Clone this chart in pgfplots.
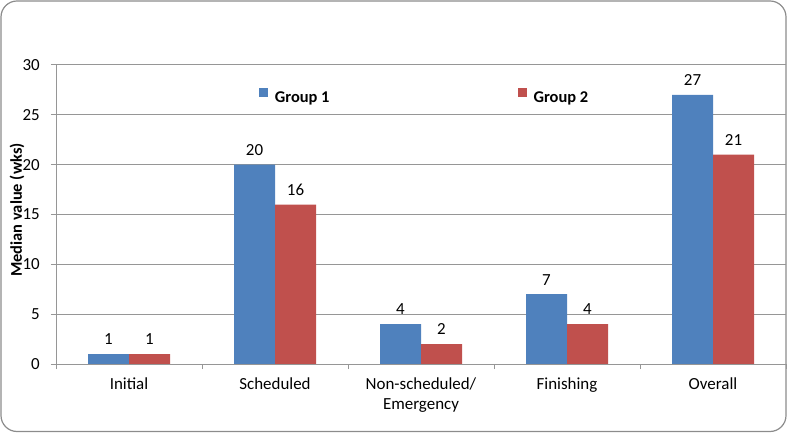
\documentclass[border=0pt]{standalone}
\usepackage{fontspec}
\setmainfont{Carlito}
\usepackage{pgfplots}
\pgfplotsset{compat=1.18}
\pgfkeys{/pgf/number format/assume math mode=true}
\definecolor{gblue}{HTML}{4F81BD}
\definecolor{gred}{HTML}{C0504D}
\definecolor{gridc}{HTML}{969696}
\definecolor{framec}{HTML}{8C8C8C}
\begin{document}
\begin{tikzpicture}[font=\fontsize{17}{20}\selectfont]
\useasboundingbox (0,0) rectangle (788bp,433bp);
\draw[framec, line width=1.2bp, rounded corners=16bp] (1bp,1.5bp) rectangle (786bp,432bp);
\begin{axis}[
  at={(56bp,69bp)}, anchor=south west,
  scale only axis, width=730bp, height=299bp,
  ymin=0, ymax=30, ytick={0,5,...,30},
  xmin=-0.5, xmax=4.5,
  xtick={0,...,4},
  xticklabels={Initial,Scheduled,{Non-scheduled/\\Emergency},Finishing,Overall},
  minor xtick={-0.5,0.5,...,4.5},
  ybar=0pt, bar width=41bp,
  axis x line*=bottom, axis y line*=left,
  axis line style={gridc, line width=1bp, -},
  ymajorgrids, grid style={gridc, line width=1bp},
  tick align=outside,
  major tick length=5bp, minor tick length=5bp,
  major x tick style={draw=none},
  minor x tick style={gridc, line width=1bp},
  y tick style={gridc, line width=1bp},
  xticklabel style={font=\fontsize{17}{20}\selectfont, align=center, inner sep=0pt, yshift=-9bp},
  yticklabel style={font=\fontsize{17}{20}\selectfont, inner sep=0pt, xshift=-11bp},
  ylabel={Median value (wks)},
  every axis y label/.style={at={(axis description cs:-0.0534,0.515)}, rotate=90, anchor=center, font=\bfseries\fontsize{16.5}{20}\selectfont},
  nodes near coords,
  every node near coord/.append style={font=\fontsize{17}{20}\selectfont, inner sep=0pt, yshift=9bp, black},
  legend columns=2,
  legend style={at={(axis description cs:0.278,0.893)}, anchor=west, draw=none, fill=none,
    inner sep=0pt, outer sep=0pt, font=\bfseries\fontsize{16.5}{20}\selectfont,
    /tikz/every even column/.append style={column sep=186bp},
    /tikz/every odd column/.append style={column sep=5bp}},
  legend image code/.code={\fill[#1, draw=none] (0bp,1.5bp) rectangle (9bp,10.5bp);},
]
\addplot[fill=gblue, draw=none] coordinates {(0,1) (1,20) (2,4) (3,7) (4,27)};
\addplot[fill=gred, draw=none] coordinates {(0,1) (1,16) (2,2) (3,4) (4,21)};
\legend{Group 1, Group 2}
\end{axis}
\end{tikzpicture}
\end{document}
